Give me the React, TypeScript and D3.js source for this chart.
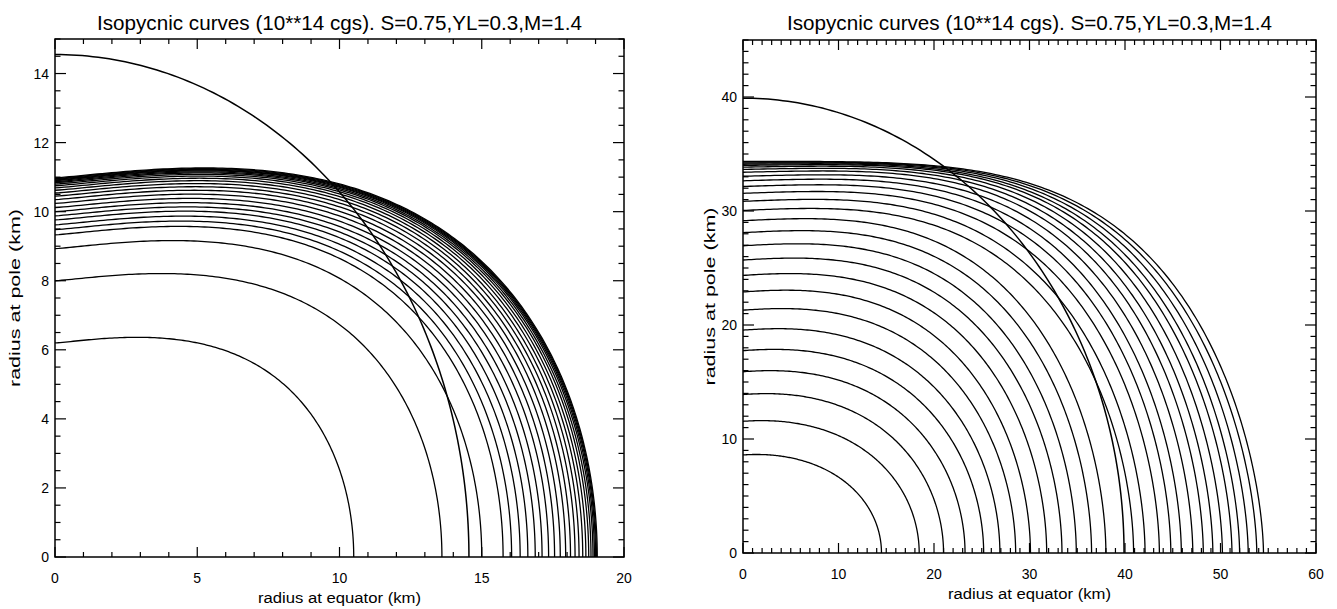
import React from "react";
import * as d3 from "d3";

const TITLE = "Isopycnic curves (10**14 cgs). S=0.75,YL=0.3,M=1.4";
const X_TITLE = "radius at equator (km)";
const Y_TITLE = "radius at pole (km)";

// Left panel: each isopycnic given by its polar and equatorial radius (km)
const leftPoleRadii = [
  6.2, 8.0, 8.93, 9.33, 9.48, 9.62, 9.76, 9.88, 10.0, 10.12, 10.24, 10.35, 10.45,
  10.54, 10.62, 10.69, 10.75, 10.8, 10.84, 10.87, 10.9, 10.92, 10.94, 10.96, 10.98,
];
const leftEquatorRadii = [
  10.5, 13.6, 15.0, 15.75, 16.05, 16.35, 16.62, 16.88, 17.12, 17.35, 17.56, 17.76, 17.95,
  18.12, 18.28, 18.42, 18.55, 18.66, 18.76, 18.84, 18.91, 18.96, 19.0, 19.03, 19.06,
];
const leftSphereRadius = 14.55;

// Right panel
const rightPoleRadii = [
  8.6, 11.55, 13.9, 15.9, 17.75, 19.55, 21.3, 22.9, 24.35, 25.7, 26.95, 28.1, 29.15, 30.05,
  30.85, 31.55, 32.15, 32.65, 33.05, 33.4, 33.65, 33.85, 34.0, 34.1, 34.2, 34.28, 34.35,
];
const rightEquatorRadii = [
  14.5, 18.45, 21.0, 23.25, 25.2, 26.9, 28.55, 30.1, 31.8, 33.4, 34.9, 36.5, 38.0, 40.9,
  42.1, 43.6, 44.8, 45.9, 47.1, 48.2, 49.2, 50.2, 51.2, 52.0, 52.9, 53.8, 54.5,
];
const rightSphereRadius = 39.9;

const leftXTicks = ["0", "5", "10", "15", "20"];
const leftYTicks = ["0", "2", "4", "6", "8", "10", "12", "14"];
const rightXTicks = ["0", "10", "20", "30", "40", "50", "60"];
const rightYTicks = ["0", "10", "20", "30", "40"];

// q: equatorial exponent, p: outer exponent, c/m: polar bulge amplitude and power
type Shape = { q: number; p: number; c: number; m: number };

type PanelSpec = {
  id: string;
  x0: number; x1: number; y0: number; y1: number;
  xMax: number; yMax: number;
  xMinor: number; yMinor: number;
  xTicks: string[]; yTicks: string[];
  poles: number[]; equators: number[]; sphere: number;
  inner: Shape; outer: Shape;
  yTitleX: number;
};

const panels: PanelSpec[] = [
  {
    id: "left", x0: 55, x1: 624, y0: 39, y1: 557, xMax: 20, yMax: 15,
    xMinor: 1, yMinor: 0.5, xTicks: leftXTicks, yTicks: leftYTicks,
    poles: leftPoleRadii, equators: leftEquatorRadii, sphere: leftSphereRadius,
    inner: { q: 2, p: 0.5, c: 0.36, m: 1.3 }, outer: { q: 2, p: 0.5, c: 0.36, m: 1.3 },
    yTitleX: 20,
  },
  {
    id: "right", x0: 743, x1: 1316, y0: 40, y1: 553, xMax: 60, yMax: 45,
    xMinor: 1, yMinor: 1, xTicks: rightXTicks, yTicks: rightYTicks,
    poles: rightPoleRadii, equators: rightEquatorRadii, sphere: rightSphereRadius,
    inner: { q: 2, p: 0.5, c: 0.1, m: 1 }, outer: { q: 4, p: 0.6, c: 0.0, m: 1 },
    yTitleX: 715,
  },
];

const FONT = "'Liberation Sans', Arial, sans-serif";

// Meridional section of an isopycnic surface: x = a·t, y = b·(1 − t^q)^p·(1 + c·t^m)
function isopycnic(a: number, b: number, s: Shape): [number, number][] {
  const n = 180;
  return d3.range(n + 1).map((k) => {
    const t = Math.sin((k / n) * (Math.PI / 2));
    const y =
      b * Math.pow(Math.max(0, 1 - Math.pow(t, s.q)), s.p) * (1 + s.c * Math.pow(t, s.m));
    return [a * t, y] as [number, number];
  });
}

function sphere(r: number): [number, number][] {
  const n = 120;
  return d3.range(n + 1).map((k) => {
    const th = (k / n) * (Math.PI / 2);
    return [r * Math.sin(th), r * Math.cos(th)] as [number, number];
  });
}

function Panel({ spec }: { spec: PanelSpec }) {
  const x = d3.scaleLinear().domain([0, spec.xMax]).range([spec.x0, spec.x1]);
  const y = d3.scaleLinear().domain([0, spec.yMax]).range([spec.y1, spec.y0]);
  const line = d3
    .line<[number, number]>()
    .x((d) => x(d[0]))
    .y((d) => y(d[1]));

  const n = spec.poles.length;
  const lerp = (u: number, v: number, f: number) => u + (v - u) * f;
  const contours = spec.poles.map((b, i) => {
    const f = n > 1 ? i / (n - 1) : 0;
    const s: Shape = {
      q: lerp(spec.inner.q, spec.outer.q, f),
      p: lerp(spec.inner.p, spec.outer.p, f),
      c: lerp(spec.inner.c, spec.outer.c, f),
      m: lerp(spec.inner.m, spec.outer.m, f),
    };
    return line(isopycnic(spec.equators[i], b, s)) || "";
  });

  const xMinorTicks = d3.range(0, spec.xMax + 1e-9, spec.xMinor);
  const yMinorTicks = d3.range(0, spec.yMax + 1e-9, spec.yMinor);
  const xMajor = spec.xTicks.map(Number);
  const yMajor = spec.yTicks.map(Number);
  const isMajor = (v: number, list: number[]) => list.some((m) => Math.abs(m - v) < 1e-6);

  const XL = 10, XS = 5, YL = 11, YS = 5.5;
  const cx = (spec.x0 + spec.x1) / 2;
  const cy = (spec.y0 + spec.y1) / 2;

  return (
    <g>
      <text x={cx} y={30} textAnchor="middle" fontSize={20} fontFamily={FONT}
        textLength={485} lengthAdjust="spacingAndGlyphs" fill="#000">{TITLE}</text>

      <g fill="none" stroke="#000" strokeWidth={1.3} strokeLinejoin="round">
        {contours.map((d, i) => <path key={i} d={d} />)}
        <path d={line(sphere(spec.sphere)) || ""} strokeWidth={1.5} />
      </g>

      <g stroke="#000" strokeWidth={1.2}>
        {xMinorTicks.map((v, i) => {
          const len = isMajor(v, xMajor) ? XL : XS;
          return (
            <g key={"x" + i}>
              <line x1={x(v)} x2={x(v)} y1={spec.y1} y2={spec.y1 - len} />
              <line x1={x(v)} x2={x(v)} y1={spec.y0} y2={spec.y0 + len} />
            </g>
          );
        })}
        {yMinorTicks.map((v, i) => {
          const len = isMajor(v, yMajor) ? YL : YS;
          return (
            <g key={"y" + i}>
              <line x1={spec.x0} x2={spec.x0 + len} y1={y(v)} y2={y(v)} />
              <line x1={spec.x1} x2={spec.x1 - len} y1={y(v)} y2={y(v)} />
            </g>
          );
        })}
      </g>

      <rect x={spec.x0} y={spec.y0} width={spec.x1 - spec.x0} height={spec.y1 - spec.y0}
        fill="none" stroke="#000" strokeWidth={1.5} />

      <g fontFamily={FONT} fontSize={14} fill="#000">
        {spec.xTicks.map((t) => (
          <text key={"xt" + t} x={x(Number(t))} y={spec.y1 + 26} textAnchor="middle">{t}</text>
        ))}
        {spec.yTicks.map((t) => (
          <text key={"yt" + t} x={spec.x0 - 6} y={y(Number(t)) + 5} textAnchor="end">{t}</text>
        ))}
        <text x={cx} y={spec.y1 + 46} textAnchor="middle" textLength={163}
          lengthAdjust="spacingAndGlyphs">{X_TITLE}</text>
        <text transform={`translate(${spec.yTitleX},${cy}) rotate(-90)`} textAnchor="middle"
          textLength={178} lengthAdjust="spacingAndGlyphs">{Y_TITLE}</text>
      </g>
    </g>
  );
}

export default function App() {
  return (
    <svg width={1337} height={609} viewBox="0 0 1337 609"
      style={{ position: "absolute", left: 0, top: 0, display: "block", background: "#fff" }}>
      <rect x={0} y={0} width={1337} height={609} fill="#fff" />
      {panels.map((p) => <Panel key={p.id} spec={p} />)}
    </svg>
  );
}
